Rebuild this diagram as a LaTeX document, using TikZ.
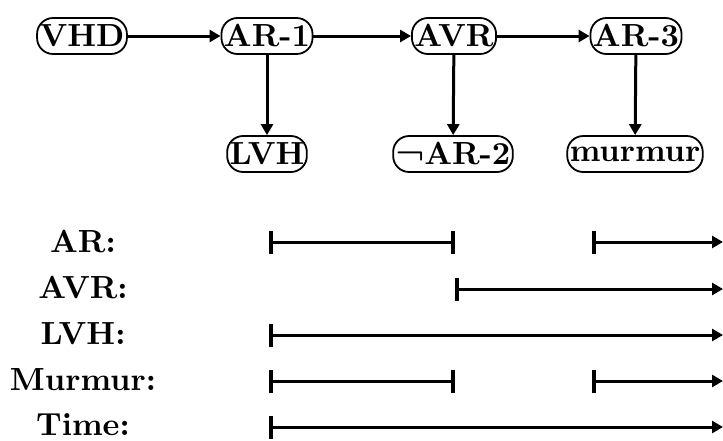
\documentclass[tikz,border=0pt]{standalone}
\usepackage{fontspec}
\newfontfamily\nodefont{lmroman10-bold.otf}
\usetikzlibrary{arrows.meta}
\begin{document}
\begin{tikzpicture}[x=1pt,y=-1pt,
  ev/.style={draw,line width=1.8pt,rounded corners=16pt,minimum height=36pt,inner xsep=2.5pt,inner ysep=1pt,
    font=\fontsize{32}{34}\nodefont},
  con/.style={line width=3pt,-{Triangle[length=11pt,width=12pt]}},
  lab/.style={font=\fontsize{32}{34}\nodefont,anchor=base,inner sep=0pt},
  seg/.style={line width=3pt,{Bar[width=23pt,line width=4pt]}-{Bar[width=23pt,line width=4pt]}},
  ray/.style={line width=3pt,{Bar[width=23pt,line width=4pt]}-{Triangle[length=11pt,width=12pt]}}]
\useasboundingbox (0,0) rectangle (723,440);
\node[ev] (vhd) at (82,36) {VHD};
\node[ev] (ar1) at (267,36) {AR-1};
\node[ev] (avr) at (454,36) {AVR};
\node[ev] (ar3) at (636,36) {AR-3};
\node[ev] (lvh) at (267,154) {LVH};
\node[ev] (nar2) at (453,154) {¬AR-2};
\node[ev] (mur) at (635,154) {murmur};
\draw[con] (vhd) -- (ar1);
\draw[con] (ar1) -- (avr);
\draw[con] (avr) -- (ar3);
\draw[con] (ar1) -- (lvh);
\draw[con] (avr) -- (nar2);
\draw[con] (ar3) -- (mur);
% timeline labels
\node[lab] (lar) at (83,252) {AR:};
\node[lab] (lavr) at (83,298) {AVR:};
\node[lab] (llvh) at (83,344) {LVH:};
\node[lab] (lmur) at (83,390) {Murmur:};
\node[lab] (ltime) at (83,435) {Time:};
% timeline coordinates
\coordinate (t0) at (269,0);
\coordinate (t1) at (455,0);
\coordinate (t2) at (592,0);
\coordinate (te) at (723,0);
\draw[seg] (t0 |- 0,242) -- (t1 |- 0,242);
\draw[ray] (t2 |- 0,242) -- (te |- 0,242);
\draw[ray] (t1 |- 0,289) -- (te |- 0,289);
\draw[ray] (t0 |- 0,335) -- (te |- 0,335);
\draw[seg] (t0 |- 0,381) -- (t1 |- 0,381);
\draw[ray] (t2 |- 0,381) -- (te |- 0,381);
\draw[ray] (t0 |- 0,427) -- (te |- 0,427);
\end{tikzpicture}
\end{document}
